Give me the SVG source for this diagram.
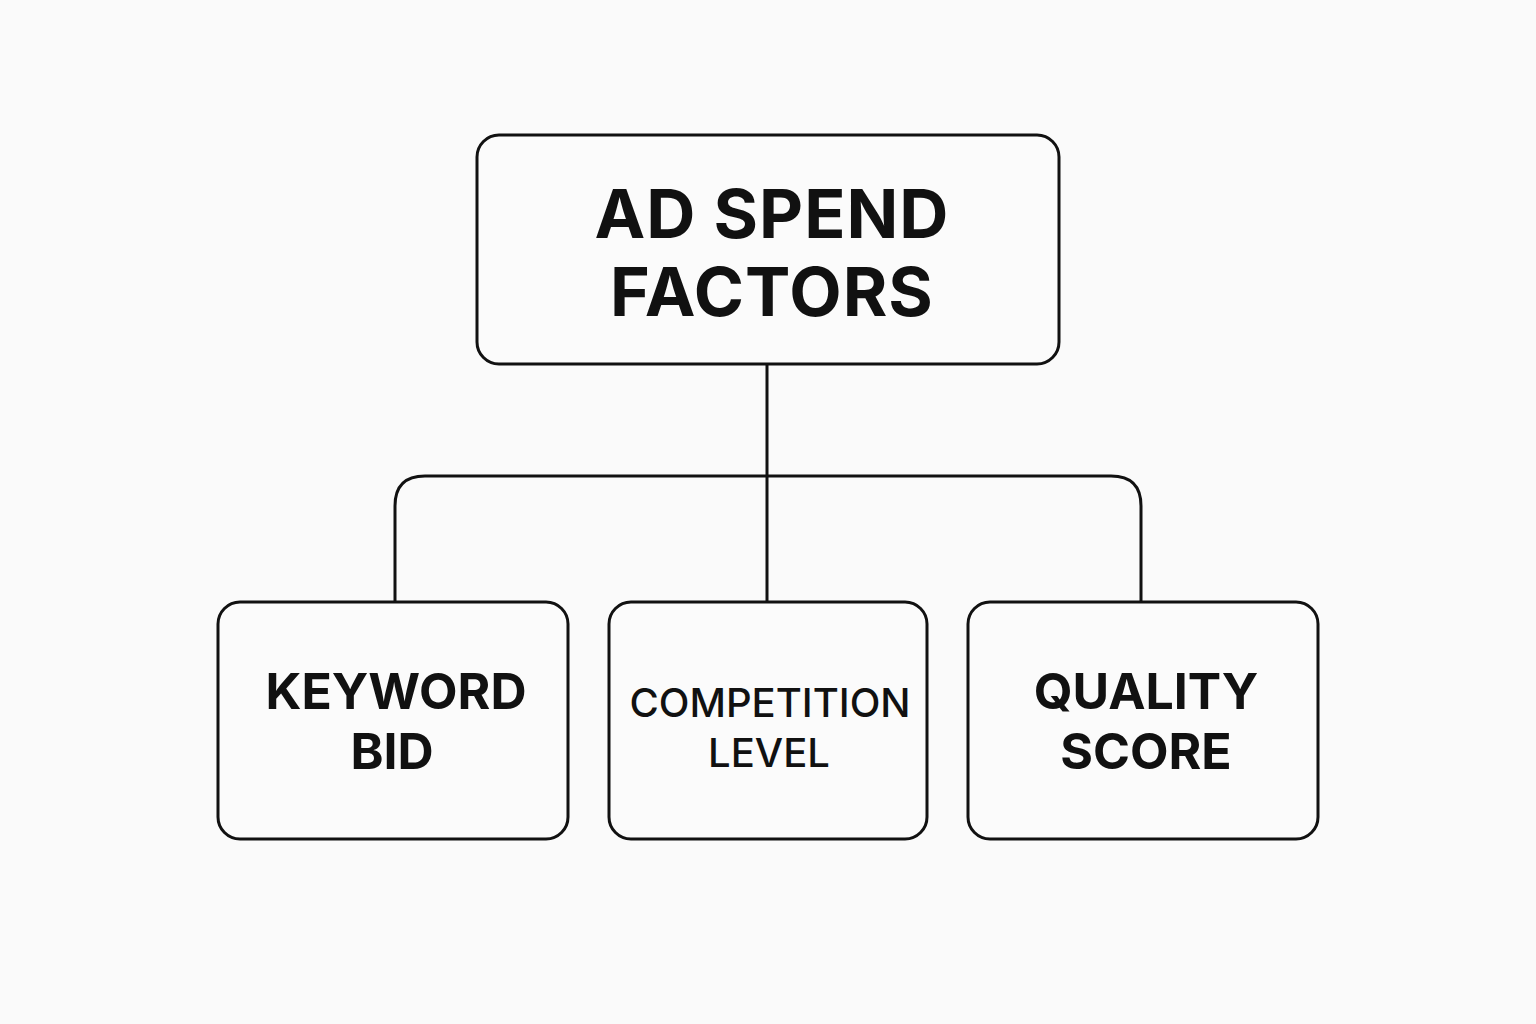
<svg xmlns="http://www.w3.org/2000/svg" width="1536" height="1024" viewBox="0 0 1536 1024">
<style>
.box{fill:#fbfbfb;stroke:#111;stroke-width:3}
.ln{fill:none;stroke:#111;stroke-width:3}
text{font-family:Inter,"Liberation Sans",sans-serif;fill:#111;text-anchor:middle}
.t{font-size:68px;font-weight:700;letter-spacing:1px}
.b{font-size:50px;font-weight:700}
.r{font-size:40px;font-weight:500}
</style>
<rect width="1536" height="1024" fill="#fafafa"/>
<g id="connectors">
<path class="ln" d="M767 364V602"/>
<path class="ln" d="M395 602V506Q395 476 425 476H1111Q1141 476 1141 506V602"/>
</g>
<g id="root">
<rect class="box" x="477" y="135" width="582" height="229" rx="22"/>
<text class="t" x="772" y="238">AD SPEND</text>
<text class="t" x="772" y="316">FACTORS</text>
</g>
<g id="keyword">
<rect class="box" x="218" y="602" width="350" height="237" rx="22"/>
<text class="b" x="396" y="709">KEYWORD</text>
<text class="b" x="392" y="769">BID</text>
</g>
<g id="competition">
<rect class="box" x="609" y="602" width="318" height="237" rx="22"/>
<text class="r" x="770" y="717">COMPETITION</text>
<text class="r" x="769" y="767">LEVEL</text>
</g>
<g id="quality">
<rect class="box" x="968" y="602" width="350" height="237" rx="22"/>
<text class="b" x="1146" y="709">QUALITY</text>
<text class="b" x="1146" y="769">SCORE</text>
</g>
</svg>
